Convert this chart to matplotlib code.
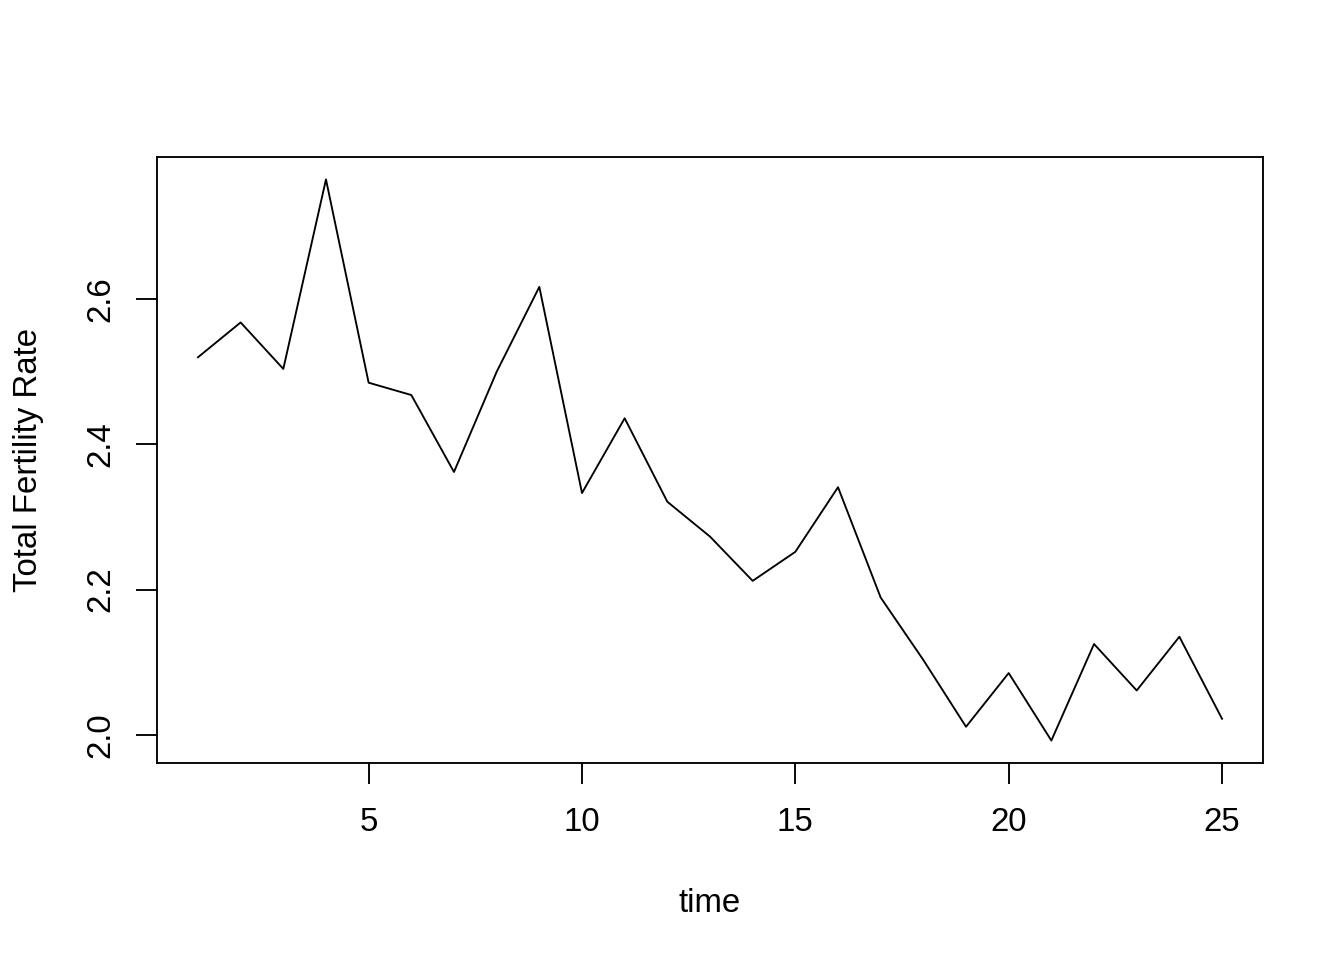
import matplotlib
matplotlib.use("Agg")
import matplotlib.pyplot as plt

time = list(range(1, 26))
tfr = [2.520, 2.568, 2.504, 2.765, 2.485, 2.468, 2.362, 2.500, 2.617, 2.333,
       2.436, 2.321, 2.273, 2.212, 2.252, 2.341, 2.189, 2.103, 2.011, 2.085,
       1.992, 2.125, 2.061, 2.135, 2.022]
xticks = [5, 10, 15, 20, 25]
yticks = [2.0, 2.2, 2.4, 2.6]

plt.rcParams['font.family'] = ['Liberation Sans', 'DejaVu Sans']
fs = 23.8
lw = 1.35

fig = plt.figure(figsize=(13.44, 9.6), dpi=100)
ax = fig.add_axes([157/1344, 1 - 763/960, (1263-157)/1344, (763-157)/960])
ax.plot(time, tfr, color='black', linewidth=lw)

xr = max(time) - min(time)
ax.set_xlim(min(time) - 0.04*xr, max(time) + 0.04*xr)
yr = max(tfr) - min(tfr)
ax.set_ylim(min(tfr) - 0.04*yr, max(tfr) + 0.04*yr)

ax.set_xticks(xticks)
ax.set_xticklabels([str(v) for v in xticks])
ax.set_yticks(yticks)
ax.set_yticklabels([f"{v:.1f}" for v in yticks], rotation=90, va='center')
ax.tick_params(axis='both', length=15, width=lw, labelsize=fs, direction='out')
ax.tick_params(axis='x', pad=17)
ax.tick_params(axis='y', pad=14)
for s in ax.spines.values():
    s.set_linewidth(lw)

ax.set_xlabel('time', fontsize=fs, labelpad=36)
ax.set_ylabel('Total Fertility Rate', fontsize=fs, labelpad=30)

fig.savefig('out.png', dpi=100)
